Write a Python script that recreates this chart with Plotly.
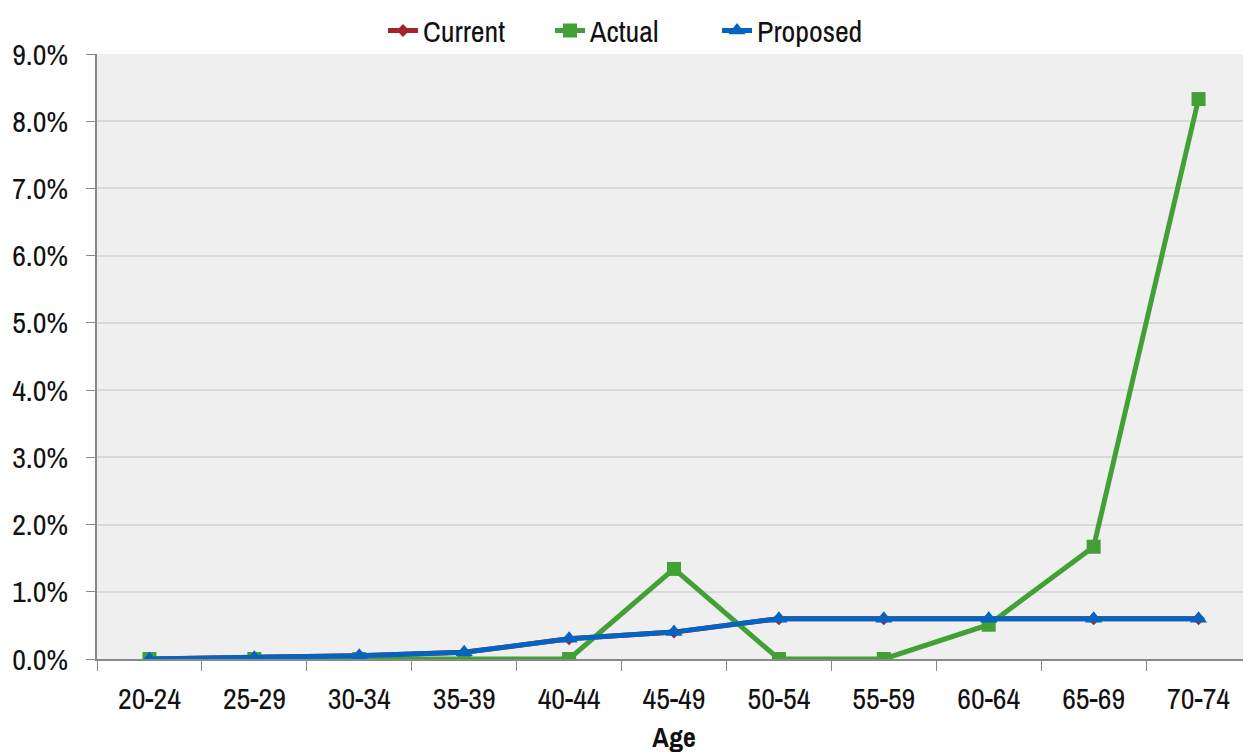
import plotly.graph_objects as go

ages = ["20-24", "25-29", "30-34", "35-39", "40-44", "45-49", "50-54", "55-59", "60-64", "65-69", "70-74"]
current = [0.0, 0.02, 0.05, 0.10, 0.30, 0.40, 0.60, 0.60, 0.60, 0.60, 0.60]
actual = [0.0, 0.0, 0.0, 0.0, 0.0, 1.34, 0.0, 0.0, 0.51, 1.67, 8.33]
proposed = [0.0, 0.02, 0.05, 0.10, 0.30, 0.40, 0.60, 0.60, 0.60, 0.60, 0.60]
yticks = [0, 1, 2, 3, 4, 5, 6, 7, 8, 9]

FONT = "Archivo Narrow, Liberation Sans Narrow, Arial Narrow, Roboto, sans-serif"
FS = 30

fig = go.Figure()
fig.add_trace(go.Scatter(x=ages, y=current, name="Current", mode="lines+markers",
                         line=dict(color="#a1262b", width=5),
                         marker=dict(symbol="diamond", size=10, color="#a1262b")))
fig.add_trace(go.Scatter(x=ages, y=actual, name="Actual", mode="lines+markers",
                         line=dict(color="#43a037", width=5),
                         marker=dict(symbol="square", size=14, color="#43a037")))
fig.add_trace(go.Scatter(x=ages, y=proposed, name="Proposed", mode="lines+markers",
                         line=dict(color="#0563c1", width=5),
                         marker=dict(symbol="triangle-up", size=15, color="#0563c1")))

fig.update_layout(
    width=1251, height=754,
    margin=dict(l=89, r=8, t=46, b=103, autoexpand=False),
    paper_bgcolor="white",
    plot_bgcolor="#efefef",
    font=dict(family=FONT, size=FS, color="#111111"),
    showlegend=True,
    legend=dict(orientation="h", x=0.5, xanchor="center", xref="container",
                y=0.97, yanchor="middle", yref="container",
                font=dict(size=FS), tracegroupgap=0, entrywidth=122,
                borderwidth=0, bgcolor="rgba(0,0,0,0)"),
    xaxis=dict(type="category", range=[-0.5, 10.5], showgrid=False, automargin=False,
               showline=True, linecolor="#888888", linewidth=1.5,
               ticks="outside", tickson="boundaries", ticklen=10, tickcolor="#888888",
               ticklabelstandoff=12,
               tickfont=dict(size=FS),
               title=dict(text="<b>Age</b>", font=dict(size=28), standoff=0)),
    yaxis=dict(range=[0, 9], tickvals=yticks, ticktext=[f"{v:.1f}%" for v in yticks],
               showgrid=True, gridcolor="#d9d9d9", gridwidth=1.5, automargin=False,
               showline=True, linecolor="#888888", linewidth=1.5,
               ticks="outside", ticklen=9, tickcolor="#888888",
               ticklabelstandoff=12,
               tickfont=dict(size=FS), zeroline=False),
)

fig.write_html("out.html")
